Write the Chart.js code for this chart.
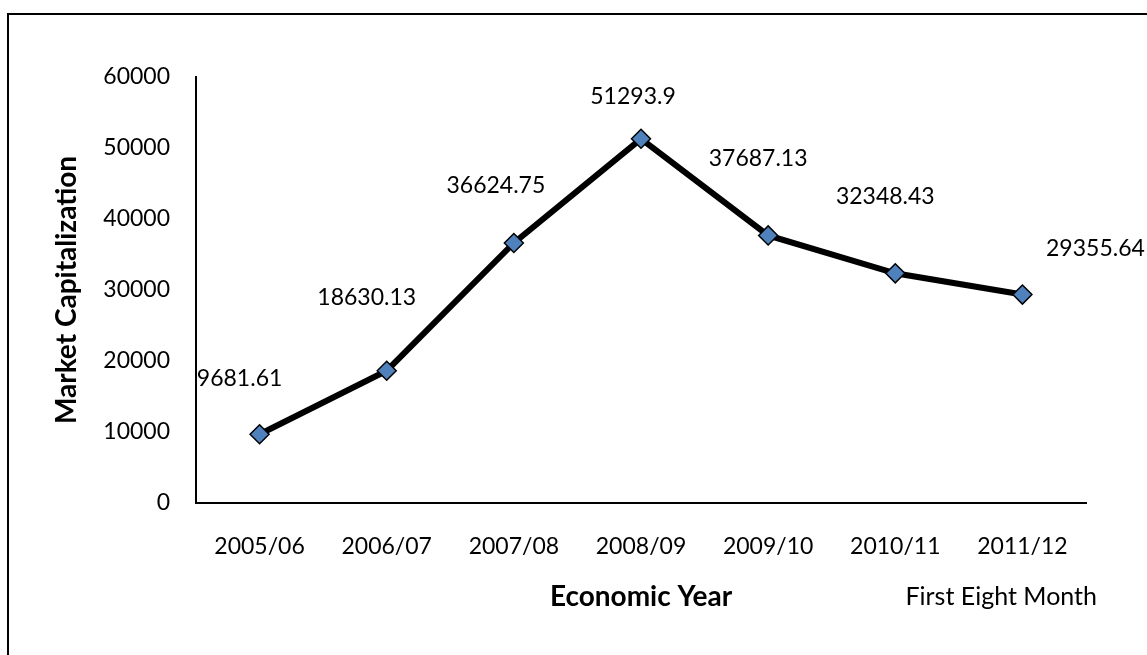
<!DOCTYPE html>
<html>
<head>
<meta charset="utf-8">
<script src="https://cdn.jsdelivr.net/npm/chart.js@4"></script>
<style>
  html, body { margin: 0; padding: 0; background: #fff; }
  #wrap { width: 1147px; height: 655px; position: relative; }
</style>
</head>
<body>
<div id="wrap"><canvas id="cap-chart"></canvas></div>
<script>
const years = ['2005/06', '2006/07', '2007/08', '2008/09', '2009/10', '2010/11', '2011/12'];
const marketCap = [9681.61, 18630.13, 36624.75, 51293.9, 37687.13, 32348.43, 29355.64];
const yTicks = [0, 10000, 20000, 30000, 40000, 50000, 60000];

// where each value label sits relative to its point (dx, dy)
const labelOffsets = [[-20, -56], [-20, -73], [-18, -57], [-8, -42], [-10, -77], [-10, -77], [73, -46]];

const baseFont = 'Lato, "Open Sans", sans-serif';

// outer frame around the whole figure
const framePlugin = {
    id: 'frame',
    beforeDraw(chart) {
        const ctx = chart.ctx;
        ctx.save();
        ctx.fillStyle = '#fff';
        ctx.fillRect(0, 0, chart.width, chart.height);
        ctx.strokeStyle = '#000';
        ctx.lineWidth = 2;
        ctx.strokeRect(8, 14, chart.width + 20, chart.height + 20);
        ctx.restore();
    }
};

// value labels plus the note under the last year
const labelPlugin = {
    id: 'valueLabels',
    afterDatasetsDraw(chart) {
        const ctx = chart.ctx;
        const meta = chart.getDatasetMeta(0);
        ctx.save();
        ctx.fillStyle = '#000';
        ctx.font = '23px ' + baseFont;
        ctx.textAlign = 'center';
        ctx.textBaseline = 'middle';
        meta.data.forEach((pt, i) => {
            const [dx, dy] = labelOffsets[i];
            ctx.fillText(String(marketCap[i]), pt.x + dx, pt.y + dy);
        });
        ctx.font = '25px ' + baseFont;
        ctx.textAlign = 'right';
        ctx.fillText('First Eight Month', chart.chartArea.right + 11, 597);
        ctx.restore();
    }
};

new Chart(document.getElementById('cap-chart').getContext('2d'), {
    type: 'line',
    data: {
        labels: years,
        datasets: [{
            label: 'Market Capitalization',
            data: marketCap,
            borderColor: '#000',
            borderWidth: 6,
            tension: 0,
            pointStyle: 'rectRot',
            pointRadius: 9.5,
            pointBackgroundColor: '#4F81BD',
            pointBorderColor: '#000',
            pointBorderWidth: 1.5
        }]
    },
    options: {
        responsive: true,
        maintainAspectRatio: false,
        animation: false,
        layout: { padding: { top: 77, right: 61, left: 0, bottom: 0 } },
        plugins: {
            legend: { display: false },
            tooltip: { enabled: false }
        },
        scales: {
            x: {
                offset: true,
                grid: { display: false, drawTicks: false },
                border: { display: true, color: '#000', width: 2 },
                ticks: { color: '#000', padding: 30, font: { family: baseFont, size: 23 }, maxRotation: 0 },
                title: {
                    display: true,
                    text: 'Economic Year',
                    color: '#000',
                    font: { family: baseFont, size: 28, weight: 'bold' },
                    padding: { top: 0, bottom: 41 }
                },
                afterFit(scale) { scale.height = 152; }
            },
            y: {
                min: 0,
                max: 60000,
                afterBuildTicks(scale) { scale.ticks = yTicks.map(v => ({ value: v })); },
                grid: { display: false, drawTicks: false },
                border: { display: true, color: '#000', width: 2 },
                ticks: {
                    color: '#000',
                    padding: 26,
                    font: { family: baseFont, size: 23 },
                    callback: v => String(v)
                },
                title: {
                    display: true,
                    text: 'Market Capitalization',
                    color: '#000',
                    font: { family: baseFont, size: 28, weight: 'bold' },
                    padding: { top: 50, bottom: 0 }
                },
                afterFit(scale) { scale.width = 196; }
            }
        }
    },
    plugins: [framePlugin, labelPlugin]
});
</script>
</body>
</html>
